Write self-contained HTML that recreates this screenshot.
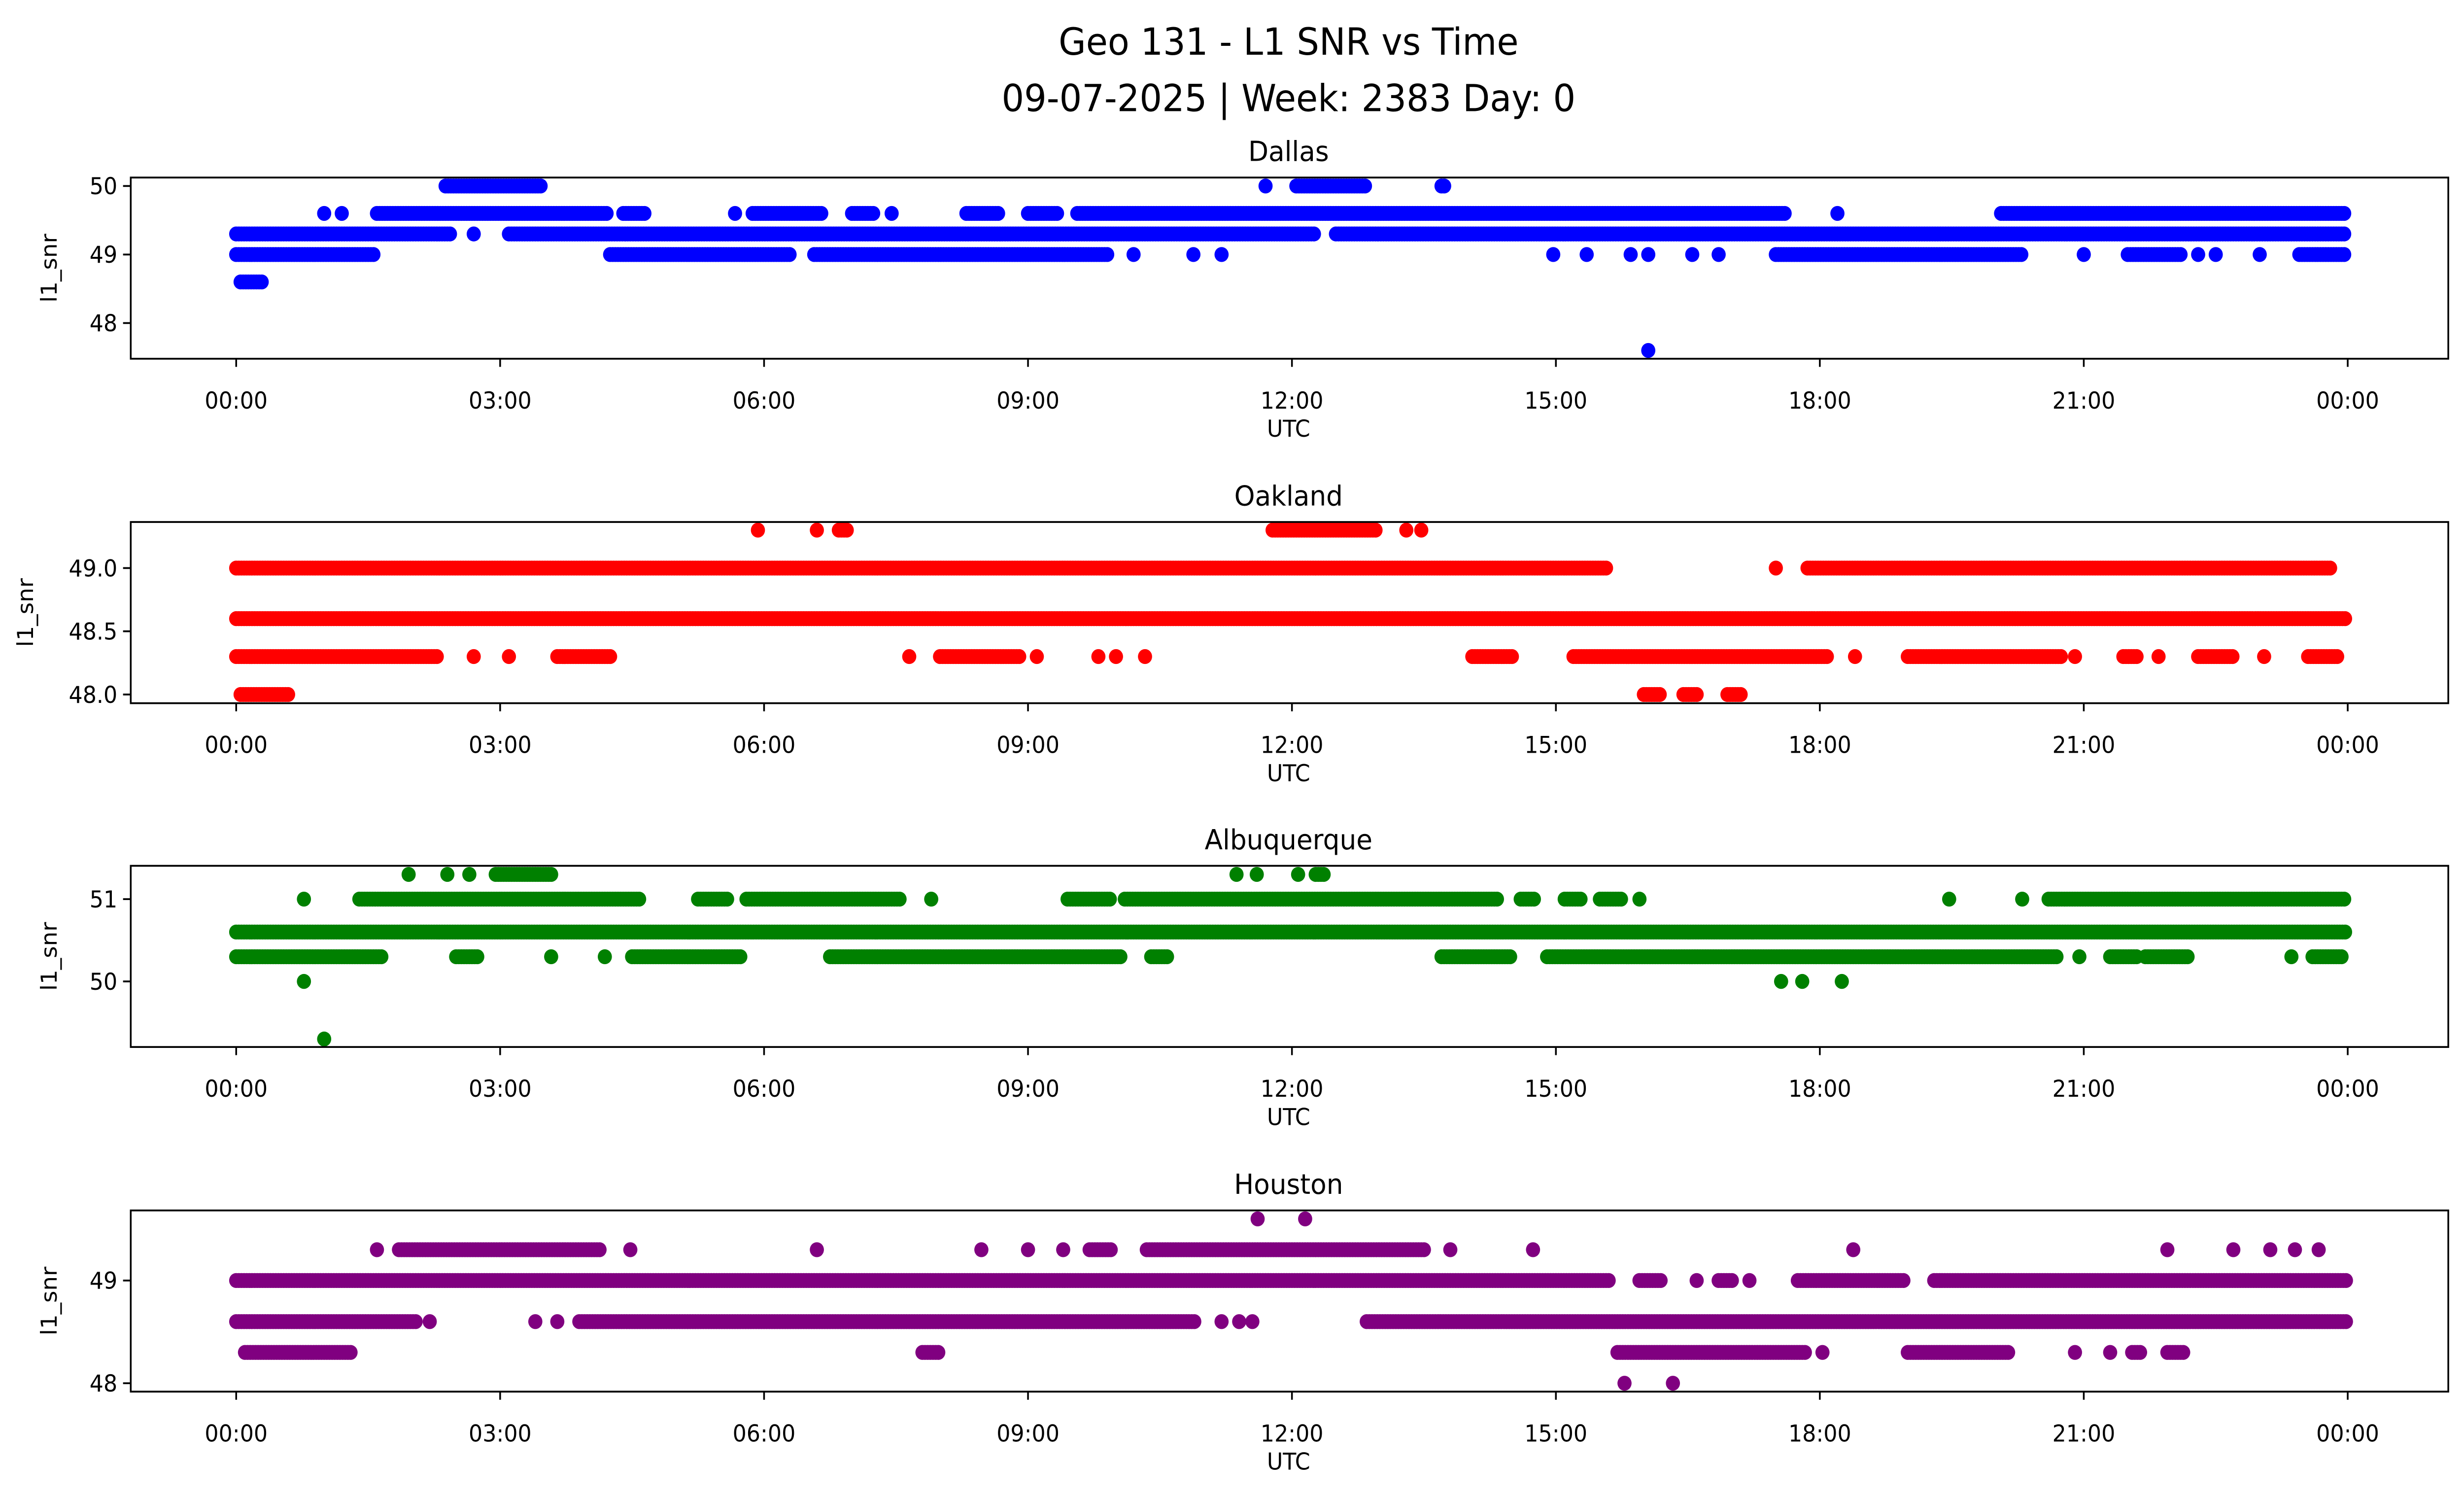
<!DOCTYPE html>
<html><head><meta charset="utf-8"><style>
html,body{margin:0;padding:0;background:#fff;width:100%;height:100%;overflow:hidden}
svg{display:block;position:absolute;left:0;top:0;width:100vw;height:100vh}
text{font-family:"DejaVu Sans","Liberation Sans",sans-serif;fill:#000}
</style></head>
<body>
<svg id="chart" xmlns="http://www.w3.org/2000/svg" viewBox="0 0 1568 901" preserveAspectRatio="none">
<rect width="1568" height="901" fill="#fff"/>
<text x="820" y="33" font-size="22.5" text-anchor="middle">Geo 131 - L1 SNR vs Time</text>
<text x="820" y="67" font-size="22.5" text-anchor="middle">09-07-2025 | Week: 2383 Day: 0</text>
<g id="plots"></g>
</svg>
<script>
// segments: [level, startHour, endHour]
const dallasSeg = [
 [50,2.38,3.48],[50,11.7,11.7],[50,12.05,12.85],[50,13.7,13.75],
 [49.6,1.0,1.0],[49.6,1.2,1.2],[49.6,1.6,4.23],[49.6,4.4,4.66],[49.6,5.67,5.67],[49.6,5.87,6.66],[49.6,7.0,7.25],[49.6,7.45,7.45],[49.6,8.3,8.67],[49.6,9.0,9.33],[49.6,9.56,17.6],[49.6,18.2,18.2],[49.6,20.06,23.98],
 [49.3,0,2.45],[49.3,2.7,2.7],[49.3,3.1,12.25],[49.3,12.5,23.98],
 [49.0,0,1.57],[49.0,4.25,6.29],[49.0,6.57,9.9],[49.0,10.2,10.2],[49.0,10.88,10.88],[49.0,11.2,11.2],[49.0,14.97,14.97],[49.0,15.35,15.35],[49.0,15.85,15.85],[49.0,16.05,16.05],[49.0,16.55,16.55],[49.0,16.85,16.85],[49.0,17.5,20.3],[49.0,21.0,21.0],[49.0,21.5,22.1],[49.0,22.3,22.3],[49.0,22.5,22.5],[49.0,23.0,23.0],[49.0,23.45,23.98],
 [48.6,0.05,0.3],[47.6,16.05,16.05]
];
const oaklandSeg = [
 [49.3,5.93,5.93],[49.3,6.6,6.6],[49.3,6.85,6.95],[49.3,11.78,12.95],[49.3,13.3,13.3],[49.3,13.47,13.47],
 [49.0,0,15.57],[49.0,17.5,17.5],[49.0,17.86,23.8],
 [48.6,0,23.98],
 [48.3,0,2.3],[48.3,2.7,2.7],[48.3,3.1,3.1],[48.3,3.65,4.25],[48.3,7.65,7.65],[48.3,8.0,8.9],[48.3,9.1,9.1],[48.3,9.8,9.8],[48.3,10.0,10.0],[48.3,10.33,10.33],[48.3,14.05,14.5],[48.3,15.2,18.08],[48.3,18.4,18.4],[48.3,19.0,20.75],[48.3,20.9,20.9],[48.3,21.45,21.6],[48.3,21.85,21.85],[48.3,22.3,22.7],[48.3,23.05,23.05],[48.3,23.55,23.9],
 [48.0,0.05,0.6],[48.0,16.0,16.2],[48.0,16.45,16.6],[48.0,16.95,17.1]
];
const albuquerqueSeg = [
 [51.3,1.96,1.96],[51.3,2.4,2.4],[51.3,2.65,2.65],[51.3,2.95,3.6],[51.3,11.37,11.37],[51.3,11.6,11.6],[51.3,12.07,12.07],[51.3,12.27,12.37],
 [51.0,0.77,0.77],[51.0,1.4,4.6],[51.0,5.25,5.6],[51.0,5.8,7.55],[51.0,7.9,7.9],[51.0,9.45,9.95],[51.0,10.1,14.35],[51.0,14.6,14.75],[51.0,15.1,15.3],[51.0,15.5,15.75],[51.0,15.95,15.95],[51.0,19.47,19.47],[51.0,20.3,20.3],[51.0,20.6,23.98],
 [50.6,0,23.98],
 [50.3,0,1.67],[50.3,2.5,2.75],[50.3,3.58,3.58],[50.3,4.19,4.19],[50.3,4.5,5.75],[50.3,6.75,10.05],[50.3,10.4,10.6],[50.3,13.7,14.5],[50.3,14.9,20.7],[50.3,20.95,20.95],[50.3,21.3,21.6],[50.3,21.7,22.2],[50.3,23.36,23.36],[50.3,23.6,23.95],
 [50.0,0.77,0.77],[50.0,17.56,17.56],[50.0,17.8,17.8],[50.0,18.25,18.25],
 [49.3,1.0,1.0]
];
const houstonSeg = [
 [49.6,11.61,11.61],[49.6,12.15,12.15],
 [49.3,1.6,1.6],[49.3,1.85,4.15],[49.3,4.48,4.48],[49.3,6.6,6.6],[49.3,8.47,8.47],[49.3,9.0,9.0],[49.3,9.4,9.4],[49.3,9.7,9.95],[49.3,10.35,13.5],[49.3,13.8,13.8],[49.3,14.74,14.74],[49.3,18.38,18.38],[49.3,21.95,21.95],[49.3,22.7,22.7],[49.3,23.12,23.12],[49.3,23.4,23.4],[49.3,23.67,23.67],
 [49.0,0,15.62],[49.0,15.95,16.2],[49.0,16.6,16.6],[49.0,16.85,17.0],[49.0,17.2,17.2],[49.0,17.75,18.97],[49.0,19.3,23.98],
 [48.6,0,2.05],[48.6,2.2,2.2],[48.6,3.4,3.4],[48.6,3.65,3.65],[48.6,3.9,10.9],[48.6,11.2,11.2],[48.6,11.4,11.4],[48.6,11.55,11.55],[48.6,12.85,23.98],
 [48.3,0.1,1.3],[48.3,7.8,8.0],[48.3,15.7,17.85],[48.3,18.03,18.03],[48.3,19.0,20.15],[48.3,20.9,20.9],[48.3,21.3,21.3],[48.3,21.55,21.65],[48.3,21.95,22.15],
 [48.0,15.78,15.78],[48.0,16.33,16.33]
];
const xTickHours = [0,3,6,9,12,15,18,21,24];
const xTickLabels = ["00:00","03:00","06:00","09:00","12:00","15:00","18:00","21:00","00:00"];
const panelNames = ["Dallas","Oakland","Albuquerque","Houston"];
const dallasTicks = [48,49,50];
const oaklandTicks = [48.0,48.5,49.0];
const albuquerqueTicks = [50,51];
const houstonTicks = [48,49];

const NS = "http://www.w3.org/2000/svg";
const root = document.getElementById("plots");
const L = 83.2, R = 1558, X0 = 150.3, X1 = 1494;
function xs(h){ return X0 + (X1 - X0) * h / 24; }
function mk(tag, attrs, parent){ const e = document.createElementNS(NS, tag); for (const k in attrs) e.setAttribute(k, attrs[k]); (parent||root).appendChild(e); return e; }

const panels = [
 {seg:dallasSeg, ticks:dallasTicks, top:107, refV:50, refY:112.1, ppu:41.3, color:"#0000ff", fmt:v=>v.toFixed(0), ylx:36},
 {seg:oaklandSeg, ticks:oaklandTicks, top:314.6, refV:49.3, refY:319.5, ppu:76.2, color:"#ff0000", fmt:v=>v.toFixed(1), ylx:21},
 {seg:albuquerqueSeg, ticks:albuquerqueTicks, top:521.8, refV:51.3, refY:527.0, ppu:49.6, color:"#008000", fmt:v=>v.toFixed(0), ylx:36},
 {seg:houstonSeg, ticks:houstonTicks, top:729.5, refV:49.6, refY:734.6, ppu:61.9, color:"#800080", fmt:v=>v.toFixed(0), ylx:36}
];

panels.forEach((p, i) => {
  const H = 109.2, bot = p.top + H;
  const ys = v => p.refY + (p.refV - v) * p.ppu;
  const g = mk("g", {});
  
  
  const pts = mk("g", {fill:p.color}, g);
  
  
  p.seg.forEach(s => {
    const lv = s[0], a = s[1], b = s[2];
    for (let h = a; h <= b + 1e-9; h += 0.03) {
      const c = mk("circle", {cx:xs(h).toFixed(2), cy:ys(lv).toFixed(2), r:4.5}, pts);
      
      
    }
  });
  const fr = mk("rect", {x:L, y:p.top, width:R-L, height:H, fill:"none", stroke:"#000", "stroke-width":1.1}, g);
  
  
  xTickHours.forEach((h, j) => {
    mk("line", {x1:xs(h), x2:xs(h), y1:bot, y2:bot+4.9, stroke:"#000", "stroke-width":1.1}, g);
    const t = mk("text", {x:xs(h), y:bot+30, "font-size":13.9, "text-anchor":"middle"}, g);
    t.textContent = xTickLabels[j];
    
    
  });
  p.ticks.forEach(v => {
    mk("line", {x1:L-4.9, x2:L, y1:ys(v), y2:ys(v), stroke:"#000", "stroke-width":1.1}, g);
    const t = mk("text", {x:L-8.5, y:ys(v)+5, "font-size":13.9, "text-anchor":"end"}, g);
    t.textContent = p.fmt(v);
    
    
  });
  const xl = mk("text", {x:820, y:bot+47, "font-size":13.9, "text-anchor":"middle"}, g);
  xl.textContent = "UTC";
  
  
  const cy = p.top + H/2;
  const yl = mk("text", {x:p.ylx, y:cy, "font-size":13.9, "text-anchor":"middle", transform:"rotate(-90 "+p.ylx+" "+cy+")"}, g);
  yl.textContent = "l1_snr";
  
  
  const tt = mk("text", {x:820, y:p.top-10, "font-size":16.7, "text-anchor":"middle"}, g);
  tt.textContent = panelNames[i];
  
  
});
</script>
</body></html>
